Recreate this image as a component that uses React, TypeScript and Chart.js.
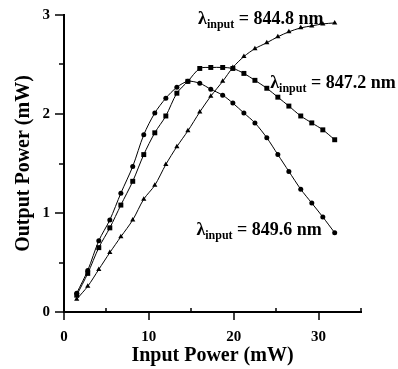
import React, { useEffect, useRef } from 'react';
import { Chart, registerables } from 'chart.js';

Chart.register(...registerables);

// Input power (mW) – shared x values for all three series
const inputPower = [1.5, 2.8, 4.1, 5.4, 6.7, 8.1, 9.4, 10.7, 12.0, 13.3, 14.6, 16.0, 17.3, 18.7, 19.9, 21.2, 22.5, 23.9, 25.2, 26.5, 27.9, 29.2, 30.5, 31.9];
// Output power (mW)
const out8448 = [0.13, 0.26, 0.43, 0.6, 0.76, 0.93, 1.14, 1.28, 1.49, 1.67, 1.83, 2.02, 2.18, 2.33, 2.47, 2.58, 2.66, 2.72, 2.78, 2.83, 2.87, 2.89, 2.91, 2.92];
const out8472 = [0.17, 0.39, 0.65, 0.85, 1.08, 1.32, 1.59, 1.81, 1.98, 2.21, 2.33, 2.46, 2.47, 2.47, 2.46, 2.41, 2.34, 2.26, 2.17, 2.08, 1.98, 1.91, 1.84, 1.74];
const out8496 = [0.19, 0.42, 0.72, 0.93, 1.2, 1.47, 1.79, 2.01, 2.16, 2.27, 2.33, 2.31, 2.25, 2.19, 2.11, 2.01, 1.91, 1.76, 1.59, 1.42, 1.24, 1.1, 0.96, 0.8];

// Series annotation labels (wavelengths) and their anchor in data units
const labelTexts = ['844.8 nm', '847.2 nm', '849.6 nm'];
const labelAnchorX = [15.8, 24.3, 15.6];
const labelAnchorY = [2.91, 2.26, 0.775];

const xTitle = 'Input Power (mW)';
const yTitle = 'Output Power (mW)';

const FONT = '"Liberation Serif", "Times New Roman", serif';

const tickMarks = {
  id: 'tickMarks',
  afterDraw(chart: any) {
    const { ctx, scales, chartArea } = chart;
    const x = scales.x;
    const y = scales.y;
    ctx.save();
    ctx.strokeStyle = '#000';
    ctx.lineWidth = 1.5;
    x.ticks.forEach((t: any) => {
      const px = Math.round(x.getPixelForValue(t.value));
      const major = Math.abs(t.value % 10) < 1e-6;
      ctx.beginPath();
      if (major) {
        ctx.moveTo(px, chartArea.bottom);
        ctx.lineTo(px, chartArea.bottom + 8);
      } else {
        ctx.moveTo(px, chartArea.bottom);
        ctx.lineTo(px, chartArea.bottom - 4);
      }
      ctx.stroke();
    });
    y.ticks.forEach((t: any) => {
      const py = Math.round(y.getPixelForValue(t.value));
      const major = Math.abs(t.value - Math.round(t.value)) < 1e-6;
      ctx.beginPath();
      ctx.moveTo(chartArea.left, py);
      ctx.lineTo(chartArea.left - (major ? 9 : 5), py);
      ctx.stroke();
    });
    ctx.restore();
  },
};

const seriesLabels = {
  id: 'seriesLabels',
  afterDraw(chart: any) {
    const { ctx, scales } = chart;
    ctx.save();
    ctx.fillStyle = '#000';
    ctx.textAlign = 'left';
    ctx.textBaseline = 'alphabetic';
    labelTexts.forEach((t, i) => {
      let px = scales.x.getPixelForValue(labelAnchorX[i]);
      const py = scales.y.getPixelForValue(labelAnchorY[i]);
      ctx.font = `bold 18px ${FONT}`;
      ctx.fillText('λ', px, py);
      px += ctx.measureText('λ').width;
      ctx.font = `bold 12px ${FONT}`;
      ctx.fillText('input', px, py + 4);
      px += ctx.measureText('input').width;
      ctx.font = `bold 18px ${FONT}`;
      ctx.fillText(' = ' + t, px, py);
    });
    ctx.restore();
  },
};

export default function App() {
  const ref = useRef<HTMLCanvasElement | null>(null);

  useEffect(() => {
    if (!ref.current) return;
    const mk = (vals: number[]) => inputPower.map((v, i) => ({ x: v, y: vals[i] }));
    const base = {
      borderColor: '#000',
      backgroundColor: '#000',
      pointBackgroundColor: '#000',
      pointBorderColor: '#000',
      borderWidth: 1,
      pointBorderWidth: 0,
      tension: 0.3,
      fill: false,
    };
    const chart = new Chart(ref.current, {
      type: 'line',
      data: {
        datasets: [
          { ...base, label: '844.8 nm', data: mk(out8448), pointStyle: 'triangle', pointRadius: 3 },
          { ...base, label: '847.2 nm', data: mk(out8472), pointStyle: 'rect', pointRadius: 3.5 },
          { ...base, label: '849.6 nm', data: mk(out8496), pointStyle: 'circle', pointRadius: 2.5 },
        ],
      },
      options: {
        animation: false,
        responsive: false,
        devicePixelRatio: 1,
        layout: { padding: { top: 15, right: 37, left: 0, bottom: 0 } },
        plugins: { legend: { display: false }, tooltip: { enabled: false } },
        scales: {
          x: {
            type: 'linear',
            min: 0,
            max: 35,
            grid: { display: false, drawTicks: false },
            border: { display: true, color: '#000', width: 2 },
            ticks: {
              stepSize: 5,
              color: '#000',
              padding: 16,
              maxRotation: 0,
              autoSkip: false,
              font: { family: FONT, weight: 'bold', size: 15 },
              callback: (v: any) => (Math.abs(Number(v) % 10) < 1e-6 ? String(v) : ''),
            },
            title: {
              display: true,
              text: xTitle,
              color: '#000',
              font: { family: FONT, weight: 'bold', size: 20 },
              padding: { top: 0, bottom: 1 },
            },
            afterFit: (s: any) => {
              s.height = 57;
              s.paddingLeft = 0;
              s.paddingRight = 0;
            },
          },
          y: {
            type: 'linear',
            min: 0,
            max: 3,
            grid: { display: false, drawTicks: false },
            border: { display: true, color: '#000', width: 2 },
            ticks: {
              stepSize: 0.5,
              color: '#000',
              padding: 14,
              autoSkip: false,
              font: { family: FONT, weight: 'bold', size: 15 },
              callback: (v: any) => (Number.isInteger(Number(v)) ? String(v) : ''),
            },
            title: {
              display: true,
              text: yTitle,
              color: '#000',
              font: { family: FONT, weight: 'bold', size: 20 },
              padding: { top: 12, bottom: 0 },
            },
            afterFit: (s: any) => {
              s.width = 64;
              s.paddingTop = 0;
              s.paddingBottom = 0;
            },
          },
        },
      },
      plugins: [tickMarks, seriesLabels],
    } as any);
    return () => chart.destroy();
  }, []);

  return (
    <div style={{ position: 'fixed', left: 0, top: 0, width: 398, height: 369, background: '#fff' }}>
      <canvas ref={ref} width={398} height={369} />
    </div>
  );
}
